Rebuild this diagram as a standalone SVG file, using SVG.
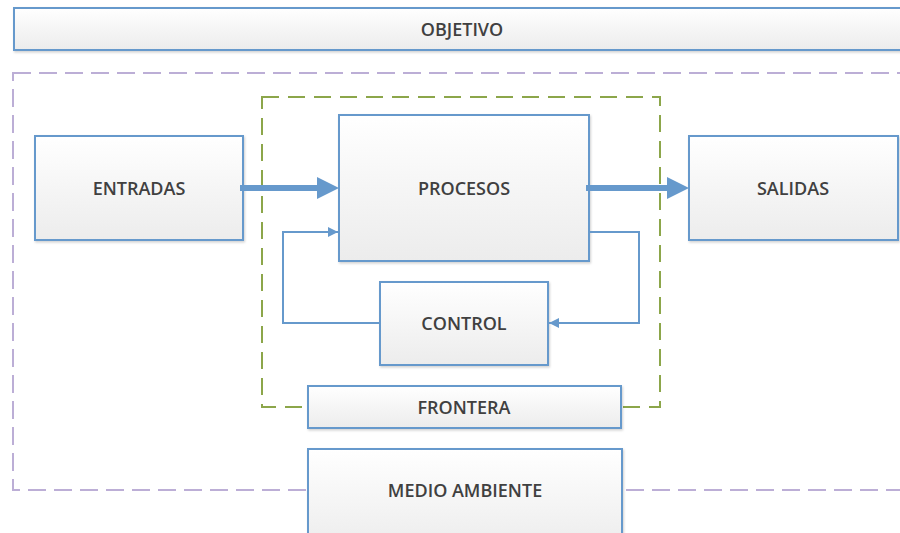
<svg xmlns="http://www.w3.org/2000/svg" width="900" height="533" viewBox="0 0 900 533">
  <defs>
    <linearGradient id="boxFill" x1="0" y1="0" x2="0" y2="1">
      <stop offset="0" stop-color="#ffffff"/>
      <stop offset="1" stop-color="#ececec"/>
    </linearGradient>
    <filter id="shadow" x="-5%" y="-5%" width="110%" height="120%">
      <feDropShadow dx="1" dy="1.5" stdDeviation="1" flood-color="#000" flood-opacity="0.18"/>
    </filter>
    <marker id="thinHead" viewBox="0 0 10 10" refX="10" refY="5" markerWidth="10" markerHeight="10" markerUnits="userSpaceOnUse" orient="auto">
      <path d="M0,0 L10,5 L0,10 Z" fill="#6699cc"/>
    </marker>
  </defs>
  <style>
    .box { fill: url(#boxFill); stroke: #6699cc; stroke-width: 2; filter: url(#shadow); }
    .label { font-family: "Open Sans", "Liberation Sans", Arial, sans-serif; font-weight: 600; font-size: 18px; fill: #404040; text-anchor: middle; dominant-baseline: central; }
    .env { fill: none; stroke: #bcaed6; stroke-width: 2; stroke-dasharray: 18 8; }
    .bound { fill: none; stroke: #8ca64a; stroke-width: 2; stroke-dasharray: 17 9; }
    .flow { fill: none; stroke: #6699cc; stroke-width: 2; }
    .thick { fill: #6699cc; }
  </style>

  <!-- environment and system boundary outlines -->
  <rect class="env" x="13" y="73" width="900" height="417"/>
  <rect class="bound" x="262" y="97" width="398" height="310"/>

  <g id="objetivo">
    <rect class="box" x="14" y="8" width="900" height="42"/>
    <text class="label" x="462" y="29">OBJETIVO</text>
  </g>

  <g id="entradas">
    <rect class="box" x="35" y="136" width="208" height="104"/>
    <text class="label" x="139" y="188">ENTRADAS</text>
  </g>

  <g id="procesos">
    <rect class="box" x="339" y="115" width="250" height="146"/>
    <text class="label" x="464" y="188">PROCESOS</text>
  </g>

  <g id="salidas">
    <rect class="box" x="689" y="136" width="209" height="104"/>
    <text class="label" x="793" y="188">SALIDAS</text>
  </g>

  <g id="control">
    <rect class="box" x="380" y="282" width="168" height="83"/>
    <text class="label" x="464" y="323">CONTROL</text>
  </g>

  <g id="frontera">
    <rect class="box" x="308" y="386" width="313" height="42"/>
    <text class="label" x="464" y="407">FRONTERA</text>
  </g>

  <g id="medio-ambiente">
    <rect class="box" x="308" y="449" width="314" height="100"/>
    <text class="label" x="465" y="490">MEDIO AMBIENTE</text>
  </g>

  <g id="connectors">
    <!-- main flow: inputs to processes -->
    <path class="thick" d="M240,185 L317,185 L317,177 L339,188 L317,199 L317,191 L240,191 Z"/>
    <!-- main flow: processes to outputs -->
    <path class="thick" d="M586,185 L667,185 L667,177 L689,188 L667,199 L667,191 L586,191 Z"/>
    <!-- feedback: processes to control -->
    <path class="flow" d="M589,232 L639,232 L639,323 L549,323" marker-end="url(#thinHead)"/>
    <!-- feedback: control back to processes -->
    <path class="flow" d="M380,323 L283,323 L283,232 L338,232" marker-end="url(#thinHead)"/>
  </g>
</svg>
